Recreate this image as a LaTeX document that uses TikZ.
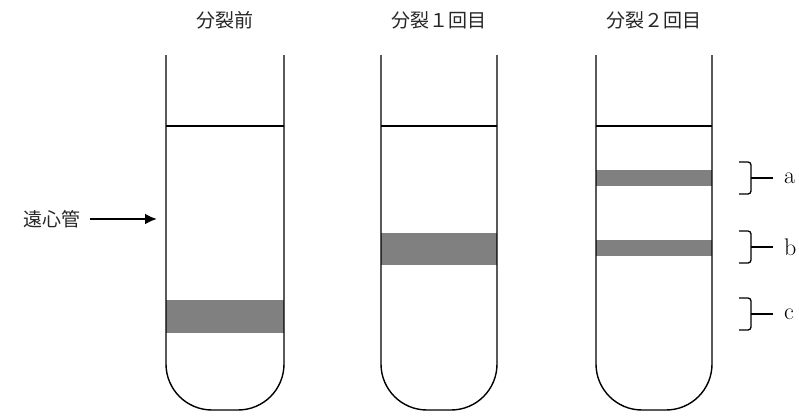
\documentclass[tikz,border=0pt]{standalone}
\usepackage{fontspec}
\usetikzlibrary{arrows.meta}
\newfontfamily\jp{Noto Sans CJK JP}
\begin{document}
\begin{tikzpicture}[x=1pt,y=-1pt,
  tube/.style={draw=black,line width=1.4pt,rounded corners=46pt},
  band/.style={fill=black!50,draw=none},
  level/.style={draw=black,line width=1.2pt},
  lbl/.style={font=\jp\fontsize{19}{22}\selectfont,text=black!85,inner sep=0pt},
  abc/.style={font=\fontsize{24}{26}\selectfont,inner sep=0pt,anchor=west},
  brk/.style={draw=black,line width=1.3pt,rounded corners=3pt}]
\useasboundingbox (0,0) rectangle (799,418);
% bands
\fill[band] (166,300) rectangle (284,333);
\fill[band] (381,233) rectangle (497,265);
\fill[band] (596,170) rectangle (712,186);
\fill[band] (596,240) rectangle (712,256);
% tube outlines
\draw[tube] (166,55) -- (166,410) -- (284,410) -- (284,55);
\draw[tube] (381,55) -- (381,410) -- (497,410) -- (497,55);
\draw[tube] (596,55) -- (596,410) -- (712,410) -- (712,55);
% liquid levels
\draw[level] (166,126) -- (284,126);
\draw[level] (381,126) -- (497,126);
\draw[level] (596,126) -- (712,126);
% titles
\node[lbl] (t1) at (225,20) {分裂前};
\node[lbl] (t2) at (439,20) {分裂１回目};
\node[lbl] (t3) at (654,20) {分裂２回目};
% label and arrow
\node[lbl,anchor=east] (enshin) at (81,219) {遠心管};
\coordinate (arrend) at (157,219);
\draw[line width=2.6pt,-{Latex[length=12pt,width=11pt]}] ([xshift=9pt]enshin.east) -- (arrend);
% brackets
\foreach \c/\t/\nm in {178/a/ba, 247/b/bb, 314/c/bc}{
  \draw[brk] (739,\c-16) -- (751,\c-16) -- (751,\c+16) -- (739,\c+16);
  \coordinate (\nm) at (751,\c);
  \node[abc] (L\nm) at (784,\c) {\t};
  \draw[line width=1.3pt] (\nm) -- ([xshift=-11pt]L\nm.west);
}
\end{tikzpicture}
\end{document}
